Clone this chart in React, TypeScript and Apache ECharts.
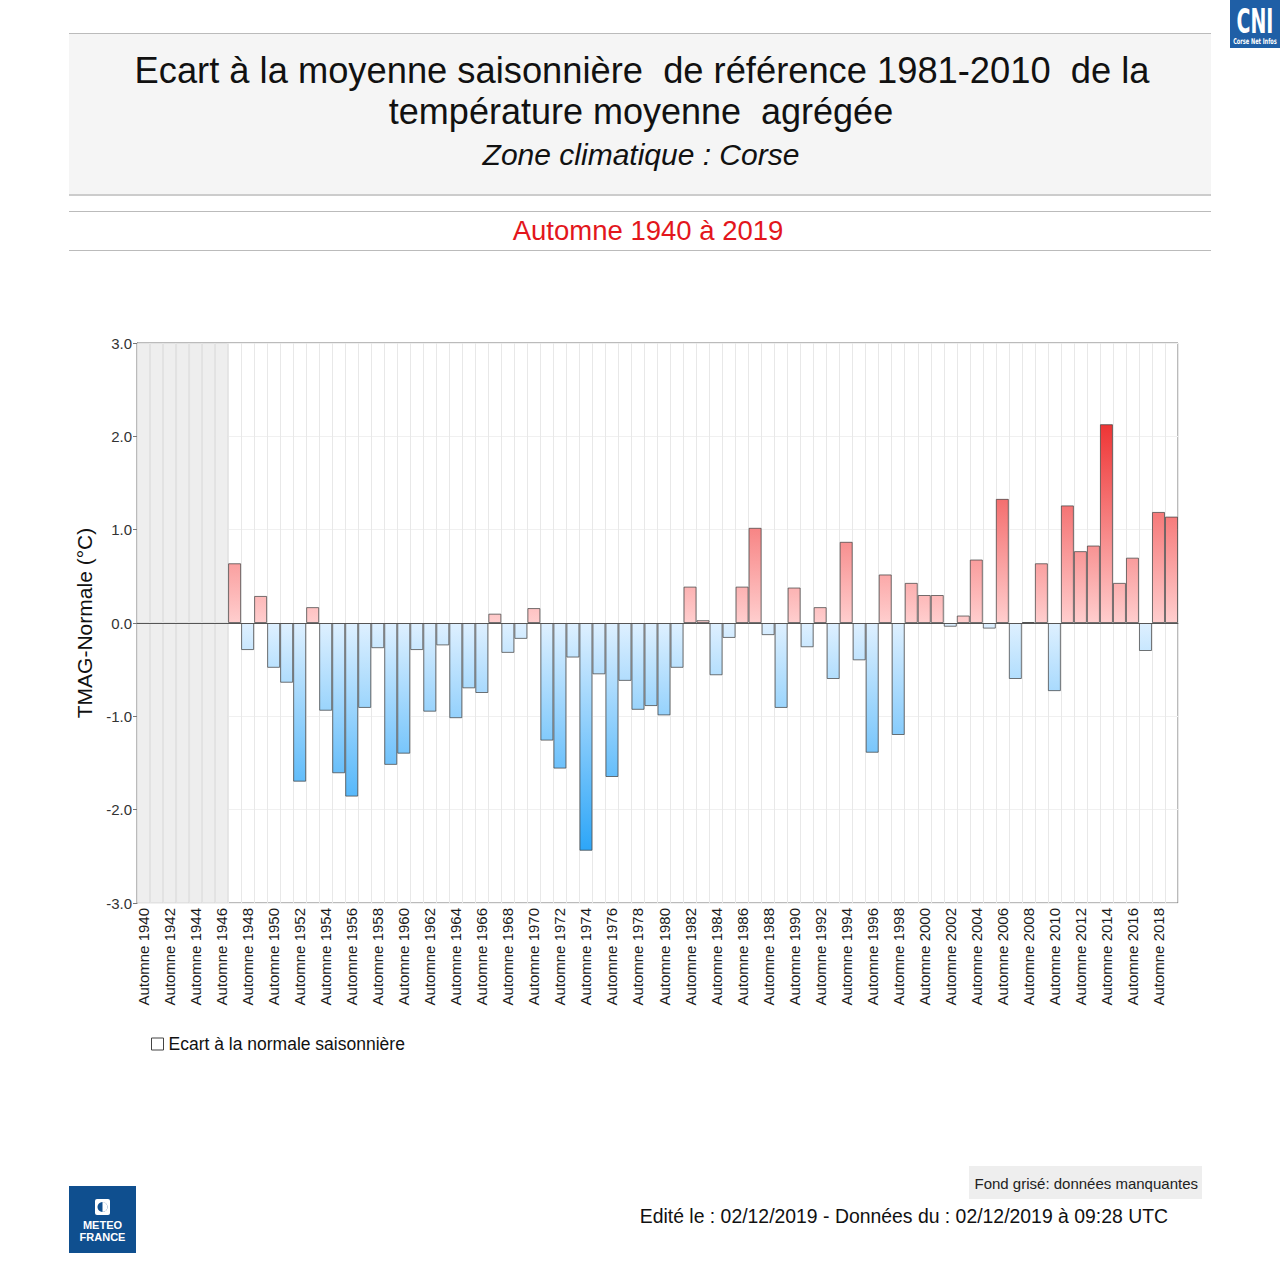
import React, { useEffect, useRef } from "react";
import * as echarts from "echarts";

const years: number[] = [];
for (let y = 1940; y <= 2019; y++) years.push(y);
const categories = years.map((y) => "Automne " + y);

// Ecart à la normale saisonnière (°C), null = données manquantes
const anomalies: (number | null)[] = [
  null, null, null, null, null, null, null, // 1940-1946
  0.64, -0.29, 0.29, -0.48, -0.64, -1.70, 0.17, -0.94, -1.61, -1.86, // 1947-1956
  -0.91, -0.27, -1.52, -1.40, -0.29, -0.95, -0.24, -1.02, -0.70, -0.75, // 1957-1966
  0.10, -0.32, -0.17, 0.16, -1.26, -1.56, -0.37, -2.44, -0.55, -1.65, // 1967-1976
  -0.62, -0.93, -0.89, -0.99, -0.48, 0.39, 0.03, -0.56, -0.16, 0.39, // 1977-1986
  1.02, -0.13, -0.91, 0.38, -0.26, 0.17, -0.60, 0.87, -0.40, -1.39, // 1987-1996
  0.52, -1.20, 0.43, 0.30, 0.30, -0.04, 0.08, 0.68, -0.06, 1.33, // 1997-2006
  -0.60, 0.01, 0.64, -0.73, 1.26, 0.77, 0.83, 2.13, 0.43, 0.70, // 2007-2016
  -0.30, 1.19, 1.14, // 2017-2019
];

const yTicks = [-3, -2, -1, 0, 1, 2, 3];
const SERIES_NAME = "Ecart à la normale saisonnière";
const FONT = '"Liberation Sans", Arial, sans-serif';

const PINK0 = [255, 206, 206];
const RED = [238, 52, 52];
const BLUE0 = [222, 240, 255];
const BLUE = [44, 166, 248];

function lerp(a: number[], b: number[], t: number) {
  const c = a.map((v, i) => Math.round(v + (b[i] - v) * Math.max(0, Math.min(1, t))));
  return `rgb(${c[0]},${c[1]},${c[2]})`;
}

function barStyle(v: number) {
  if (v >= 0) {
    return new echarts.graphic.LinearGradient(0, 0, 0, 1, [
      { offset: 0, color: lerp(PINK0, RED, v / 2.15) },
      { offset: 1, color: lerp(PINK0, RED, 0) },
    ]);
  }
  return new echarts.graphic.LinearGradient(0, 0, 0, 1, [
    { offset: 0, color: lerp(BLUE0, BLUE, 0) },
    { offset: 1, color: lerp(BLUE0, BLUE, -v / 2.45) },
  ]);
}

export default function App() {
  const ref = useRef<HTMLDivElement>(null);
  useEffect(() => {
    if (!ref.current) return;
    const chart = echarts.init(ref.current, undefined, { renderer: "svg" });

    const mainData = anomalies.map((v) =>
      v === null
        ? null
        : {
            value: v,
            itemStyle: { color: barStyle(v) },
          }
    );
    const bgTop = anomalies.map((v) => (v === null ? yTicks[yTicks.length - 1] : null));
    const bgBottom = anomalies.map((v) => (v === null ? yTicks[0] : null));

    const option: any = {
      animation: false,
      backgroundColor: "#ffffff",
      textStyle: { fontFamily: FONT },
      grid: {
        left: 137,
        right: 102,
        top: 343,
        height: 560,
        show: true,
        borderColor: "#777777",
        borderWidth: 1,
        backgroundColor: "transparent",
      },
      legend: {
        left: 146,
        top: 1030,
        selectedMode: false,
        itemWidth: 12,
        itemHeight: 12,
        icon: "rect",
        data: [
          {
            name: SERIES_NAME,
            itemStyle: { color: "#ffffff", borderColor: "#444444", borderWidth: 1 },
          },
        ],
        textStyle: { fontSize: 17.5, color: "#111111", fontFamily: FONT },
      },
      xAxis: {
        type: "category",
        data: categories,
        boundaryGap: true,
        axisLine: { show: true, lineStyle: { color: "#777777" } },
        axisTick: { show: false },
        axisLabel: {
          interval: 1,
          rotate: 90,
          fontSize: 15,
          color: "#1a1a1a",
          margin: 5,
          fontFamily: FONT,
        },
        splitLine: {
          show: true,
          interval: 0,
          lineStyle: { color: "#e8e8e8", width: 1 },
        },
      },
      yAxis: {
        type: "value",
        min: yTicks[0],
        max: yTicks[yTicks.length - 1],
        interval: 1,
        name: "TMAG-Normale (°C)",
        nameLocation: "middle",
        nameGap: 42,
        nameTextStyle: { fontSize: 21, color: "#111111", fontFamily: FONT },
        axisLine: { show: true, lineStyle: { color: "#777777" } },
        axisTick: { show: true, length: 4, lineStyle: { color: "#777777" } },
        axisLabel: {
          fontSize: 15,
          color: "#333333",
          margin: 5,
          fontFamily: FONT,
          formatter: (v: number) => v.toFixed(1),
        },
        splitLine: { show: true, lineStyle: { color: "#f0f0f0", width: 1 } },
      },
      series: [
        {
          name: "bgTop",
          type: "bar",
          data: bgTop,
          barGap: "-100%",
          barCategoryGap: "0%",
          silent: true,
          z: 1,
          itemStyle: { color: "#eeeeee", borderColor: "#e2e2e2", borderWidth: 1 },
        },
        {
          name: "bgBottom",
          type: "bar",
          data: bgBottom,
          barGap: "-100%",
          barCategoryGap: "0%",
          silent: true,
          z: 1,
          itemStyle: { color: "#eeeeee", borderColor: "#e2e2e2", borderWidth: 1 },
        },
        {
          name: SERIES_NAME,
          type: "bar",
          data: mainData,
          barGap: "-100%",
          barCategoryGap: "0%",
          z: 3,
          itemStyle: { borderColor: "rgba(70,70,70,0.75)", borderWidth: 1 },
          markLine: {
            silent: true,
            symbol: "none",
            label: { show: false },
            lineStyle: { color: "#555555", width: 1, type: "solid" },
            data: [{ yAxis: 0 }],
            z: 5,
          },
        },
      ],
      graphic: [
        // header box
        { type: "rect", shape: { x: 69, y: 33, width: 1142, height: 162 }, style: { fill: "#f5f5f5" }, z: -1 },
        { type: "line", shape: { x1: 69, y1: 33.5, x2: 1211, y2: 33.5 }, style: { stroke: "#bbbbbb", lineWidth: 1 } },
        { type: "line", shape: { x1: 69, y1: 195, x2: 1211, y2: 195 }, style: { stroke: "#cccccc", lineWidth: 2 } },
        { type: "line", shape: { x1: 69, y1: 211.5, x2: 1211, y2: 211.5 }, style: { stroke: "#bbbbbb", lineWidth: 1 } },
        { type: "line", shape: { x1: 69, y1: 250.5, x2: 1211, y2: 250.5 }, style: { stroke: "#bbbbbb", lineWidth: 1 } },
        {
          type: "text", x: 642, y: 70,
          style: { text: "Ecart à la moyenne saisonnière  de référence 1981-2010  de la", fontSize: 36.3, fontFamily: FONT, fill: "#111111", textAlign: "center", verticalAlign: "middle" },
        },
        {
          type: "text", x: 641, y: 111,
          style: { text: "température moyenne  agrégée", fontSize: 36, fontFamily: FONT, fill: "#111111", textAlign: "center", verticalAlign: "middle" },
        },
        {
          type: "text", x: 641, y: 154,
          style: { text: "Zone climatique : Corse", fontSize: 30, fontStyle: "italic", fontFamily: FONT, fill: "#111111", textAlign: "center", verticalAlign: "middle" },
        },
        {
          type: "text", x: 648, y: 230,
          style: { text: "Automne 1940 à 2019", fontSize: 27.5, fontFamily: FONT, fill: "#e3161c", textAlign: "center", verticalAlign: "middle" },
        },
        // footer
        { type: "rect", shape: { x: 969, y: 1166, width: 233, height: 33 }, style: { fill: "#eeeeee" } },
        {
          type: "text", x: 1198, y: 1183,
          style: { text: "Fond grisé: données manquantes", fontSize: 15, fontFamily: FONT, fill: "#222222", textAlign: "right", verticalAlign: "middle" },
        },
        {
          type: "text", x: 1168, y: 1216,
          style: { text: "Edité le : 02/12/2019 - Données du : 02/12/2019 à 09:28 UTC", fontSize: 19.4, fontFamily: FONT, fill: "#111111", textAlign: "right", verticalAlign: "middle" },
        },
        // Meteo France logo
        { type: "rect", shape: { x: 69, y: 1186, width: 67, height: 67 }, style: { fill: "#0f4f8f" } },
        { type: "rect", shape: { x: 95, y: 1199, width: 15, height: 16, r: 2 }, style: { fill: "#ffffff" } },
        { type: "circle", shape: { cx: 102.5, cy: 1207, r: 5 }, style: { fill: "#0f4f8f" } },
        { type: "sector", shape: { cx: 102.5, cy: 1207, r: 5, r0: 0, startAngle: -Math.PI / 2, endAngle: Math.PI / 2 }, style: { fill: "#ffffff" } },
        {
          type: "text", x: 102.5, y: 1225,
          style: { text: "METEO", fontSize: 11, fontWeight: "bold", fontFamily: FONT, fill: "#ffffff", textAlign: "center", verticalAlign: "middle" },
        },
        {
          type: "text", x: 102.5, y: 1237,
          style: { text: "FRANCE", fontSize: 11, fontWeight: "bold", fontFamily: FONT, fill: "#ffffff", textAlign: "center", verticalAlign: "middle" },
        },
        // CNI logo
        { type: "rect", shape: { x: 1230, y: 0, width: 50, height: 48 }, style: { fill: "#1f5fa6" } },
        {
          type: "text", x: 1255, y: 22, scaleX: 0.62, originX: 0, originY: 0,
          style: { text: "CNI", fontSize: 34, fontWeight: "bold", fontFamily: '"DejaVu Sans Condensed", "Liberation Sans Narrow", sans-serif', fill: "#ffffff", textAlign: "center", verticalAlign: "middle" },
        },
        {
          type: "text", x: 1255, y: 42, scaleX: 0.7, originX: 0, originY: 0,
          style: { text: "Corse Net Infos", fontSize: 8, fontWeight: "bold", fontFamily: '"Liberation Sans Narrow", "DejaVu Sans Condensed", sans-serif', fill: "#ffffff", textAlign: "center", verticalAlign: "middle" },
        },
      ],
    };
    chart.setOption(option);
    return () => chart.dispose();
  }, []);

  return (
    <div
      ref={ref}
      style={{ position: "fixed", left: 0, top: 0, width: 1280, height: 1280, background: "#ffffff" }}
    />
  );
}
